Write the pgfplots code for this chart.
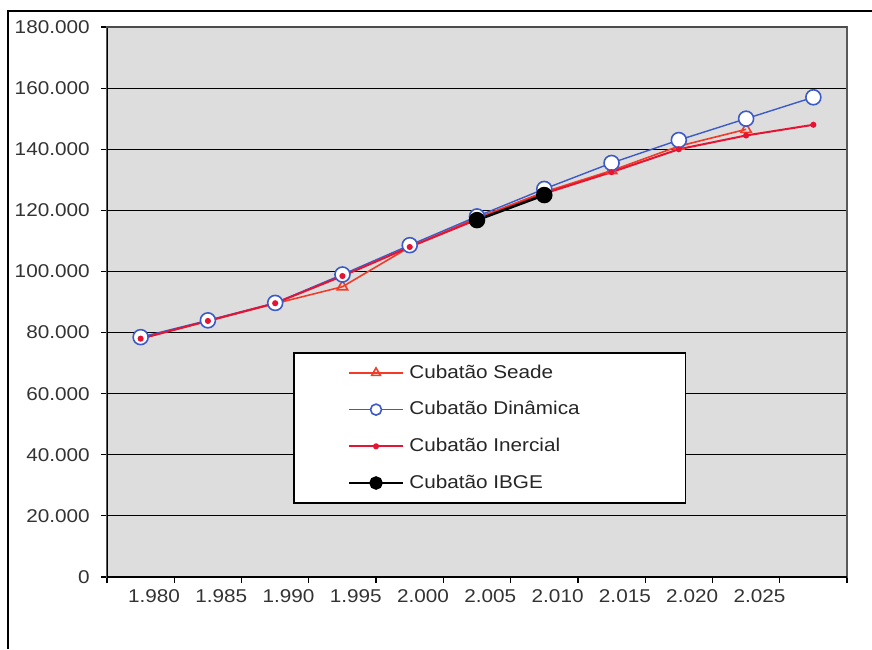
\documentclass[border=0pt]{standalone}
\usepackage{fontspec}
\setmainfont[FakeStretch=1.12]{Liberation Sans}
\usepackage{pgfplots}
\pgfplotsset{compat=1.18}
\definecolor{seade}{RGB}{240,60,40}
\definecolor{dinamica}{RGB}{60,90,200}
\definecolor{inercial}{RGB}{228,20,50}
\definecolor{plotbg}{RGB}{221,221,221}
\begin{document}
\fontsize{18.5}{22}\selectfont
\begin{tikzpicture}
\useasboundingbox (0pt,0pt) rectangle (872pt,649pt);
\draw[line width=2pt] (8pt,0pt) -- (8pt,638pt) -- (872pt,638pt);
\begin{axis}[
  at={(107pt,72pt)}, anchor=south west,
  width=740pt, height=550pt, scale only axis,
  xmin=-0.5, xmax=10.5, ymin=0, ymax=180000,
  xtick={-0.5,0.5,1.5,2.5,3.5,4.5,5.5,6.5,7.5,8.5,9.5,10.5},
  xticklabels={{},{1.980},{1.985},{1.990},{1.995},{2.000},{2.005},{2.010},{2.015},{2.020},{2.025},{}},
  ytick={0,20000,40000,60000,80000,100000,120000,140000,160000,180000},
  yticklabels={0,20.000,40.000,60.000,80.000,100.000,120.000,140.000,160.000,180.000},
  scaled y ticks=false,
  tick pos=left, tick align=outside, major tick length=6pt,
  tick style={black, line width=1.2pt},
  x tick label style={anchor=north east, xshift=12pt, text=black!80},
  y tick label style={xshift=-5pt, text=black!80},
  ymajorgrids, grid style={black, line width=1.2pt},
  axis background/.style={fill=plotbg},
  axis line style={draw=gray!70!black, line width=1.5pt},
  legend style={at={(rel axis cs:0.2514,0.409)}, anchor=north west,
    draw=black, line width=1.5pt, fill=white,
    inner xsep=54pt, inner ysep=10pt, row sep=16.5pt, text=black!85,
    /tikz/every odd column/.append style={column sep=3pt}},
  legend cell align=left,
  legend image code/.code={\draw[mark repeat=2,mark phase=2,#1] plot coordinates {(0pt,0pt) (27pt,0pt) (54pt,0pt)};},
]
\draw[black, line width=1.6pt] (rel axis cs:0,1) -- (rel axis cs:0,0) -- (rel axis cs:1,0);
\draw[gray!60!black, line width=2pt] (rel axis cs:0,1) -- (rel axis cs:1,1);

\addplot[seade, line width=1.6pt, mark=triangle, mark size=6pt, mark options={line width=1.6pt}, legend image post style={mark size=5pt}]
  coordinates {(0,78000) (1,83800) (2,89500) (3,95000) (4,108000) (5,117500) (6,126000) (7,133000) (8,141000) (9,146500)};
\addlegendentry{\makebox[220pt][l]{Cubatão Seade}}

\addplot[dinamica, line width=1.4pt, mark=*, mark size=7.5pt, mark options={fill=white, draw=dinamica, line width=1.6pt}, legend image post style={mark size=5.5pt}]
  coordinates {(0,78500) (1,84000) (2,89700) (3,99000) (4,108600) (5,118000) (6,127000) (7,135500) (8,143000) (9,150000) (10,157000)};
\addlegendentry{\makebox[220pt][l]{Cubatão Dinâmica}}

\addplot[inercial, line width=2pt, mark=*, mark size=2pt]
  coordinates {(0,78000) (1,83800) (2,89600) (3,98500) (4,108000) (5,117000) (6,125500) (7,132500) (8,140000) (9,144500) (10,148000)};
\addlegendentry{\makebox[220pt][l]{Cubatão Inercial}}

\addplot[black, line width=2.5pt, mark=*, mark size=7pt, legend image post style={mark size=5.5pt}]
  coordinates {(5,116800) (6,125000)};
\addlegendentry{\makebox[220pt][l]{Cubatão IBGE}}
\end{axis}
\end{tikzpicture}
\end{document}
